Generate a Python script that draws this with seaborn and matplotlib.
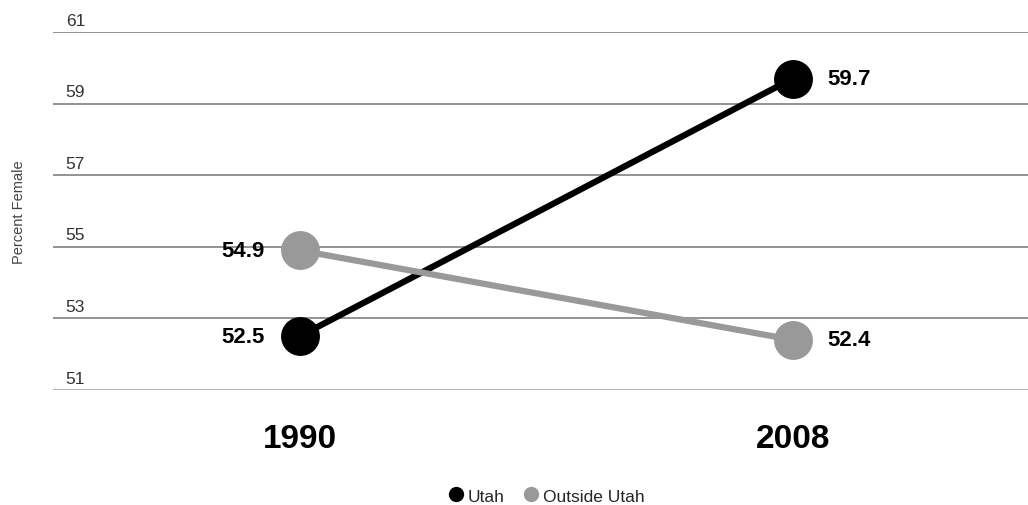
import matplotlib
matplotlib.use("Agg")
import matplotlib.pyplot as plt
import matplotlib.transforms as mtransforms
from matplotlib.lines import Line2D
import seaborn as sns
import pandas as pd

years = ["1990", "2008"]
series_names = ["Utah", "Outside Utah"]
utah = [52.5, 59.7]
outside = [54.9, 52.4]
y_ticks = [51, 53, 55, 57, 59, 61]
colors = {"Utah": "#000000", "Outside Utah": "#999999"}

df = pd.DataFrame({
    "year": years * 2,
    "value": utah + outside,
    "series": [series_names[0]] * 2 + [series_names[1]] * 2,
})

sns.set_theme(style="white")
plt.rcParams["font.family"] = ["Liberation Sans", "DejaVu Sans"]

fig = plt.figure(figsize=(10.28, 5.06), dpi=100)
ax = fig.add_axes([0.0516, 0.2273, 0.9484, 0.7075])

sns.lineplot(data=df, x="year", y="value", hue="series", palette=colors,
             marker="o", markersize=28, markeredgewidth=0, linewidth=4.5,
             legend=False, ax=ax, sort=False, zorder=3)

ax.set_ylim(51, 61)
ax.set_xlim(-0.5, 1.477)
ax.set_yticks(y_ticks)
ax.set_yticklabels([])
ax.tick_params(axis="y", length=0)
for s in ax.spines.values():
    s.set_visible(False)
for t in y_ticks:
    ax.axhline(t, color="#8a8a8a" if t != 51 else "#b0b0b0", lw=1.3 if t != 51 else 2.0, zorder=1)
    ax.text(0.013, t + 0.12, str(t), transform=mtransforms.blended_transform_factory(ax.transAxes, ax.transData),
            ha="left", va="bottom", fontsize=12.5, color="#333333")

ax.set_xlabel("")
ax.set_ylabel("Percent Female", fontsize=10.5, color="#444444", labelpad=16)
ax.tick_params(axis="x", length=0, pad=24)
for lbl in ax.get_xticklabels():
    lbl.set_fontsize(24)
    lbl.set_fontweight("bold")
    lbl.set_color("#000000")

# value labels
for vals in [utah, outside]:
    ax.annotate(f"{vals[0]}", (0, vals[0]), xytext=(-25, 0), textcoords="offset points",
                ha="right", va="center", fontsize=16, fontweight="bold", color="#000000")
    ax.annotate(f"{vals[1]}", (1, vals[1]), xytext=(25, 0), textcoords="offset points",
                ha="left", va="center", fontsize=16, fontweight="bold", color="#000000")

handles = [Line2D([0], [0], marker="o", color="none", markerfacecolor=colors[n],
                  markeredgewidth=0, markersize=11, label=n) for n in series_names]
fig.legend(handles=handles, loc="lower center", bbox_to_anchor=(0.531, -0.028), ncol=2,
           frameon=False, fontsize=12.5, handletextpad=0.2, columnspacing=1.0, handlelength=1.0)

fig.savefig("out.png", dpi=100)
